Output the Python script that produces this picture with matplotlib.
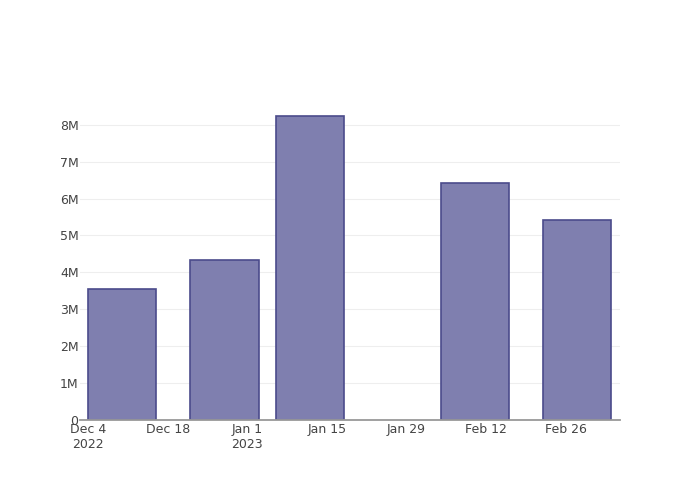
import datetime as dt
import matplotlib
matplotlib.use("Agg")
import matplotlib.pyplot as plt
import matplotlib.dates as mdates

# bar centres (dates) and values
dates = ["2022-12-10", "2022-12-28", "2023-01-12", "2023-02-10", "2023-02-28"]
values = [3.55e6, 4.34e6, 8.24e6, 6.42e6, 5.42e6]
bar_days = 12

tick_dates = ["2022-12-04", "2022-12-18", "2023-01-01", "2023-01-15",
              "2023-01-29", "2023-02-12", "2023-02-26"]
tick_labels = ["Dec 4\n2022", "Dec 18", "Jan 1\n2023", "Jan 15",
               "Jan 29", "Feb 12", "Feb 26"]
y_ticks = [0, 1e6, 2e6, 3e6, 4e6, 5e6, 6e6, 7e6, 8e6]
y_labels = ["0", "1M", "2M", "3M", "4M", "5M", "6M", "7M", "8M"]

to_date = lambda s: dt.datetime.strptime(s, "%Y-%m-%d")
x = [mdates.date2num(to_date(d)) for d in dates]
xt = [mdates.date2num(to_date(d)) for d in tick_dates]

fig = plt.figure(figsize=(7, 5), dpi=100)
ax = fig.add_axes([80/700, 80/500, 540/700, 320/500])

ax.bar(x, values, width=bar_days, color="#7f7faf", edgecolor="#4b4b8b",
       linewidth=1.2, zorder=3)

x0 = mdates.date2num(to_date("2022-12-04"))
ax.set_xlim(x0 - 1.4, x0 + 93.5)
ax.set_ylim(0, 8.67e6)

ax.set_xticks(xt)
ax.set_xticklabels(tick_labels, ha="center", va="top")
ax.set_yticks(y_ticks)
ax.set_yticklabels(y_labels)
ax.tick_params(axis="both", length=0, labelsize=9, colors="#444444")
ax.tick_params(axis="x", pad=2)
ax.tick_params(axis="y", pad=1)
for lab in ax.get_xticklabels():
    lab.set_linespacing(1.25)

ax.grid(axis="y", color="#eeeeee", linewidth=0.8, zorder=0)
for s in ["top", "right", "left"]:
    ax.spines[s].set_visible(False)
ax.spines["bottom"].set_color("#999999")
ax.spines["bottom"].set_linewidth(1.3)
ax.spines["bottom"].set_zorder(4)

fig.savefig("out.png", dpi=100)
